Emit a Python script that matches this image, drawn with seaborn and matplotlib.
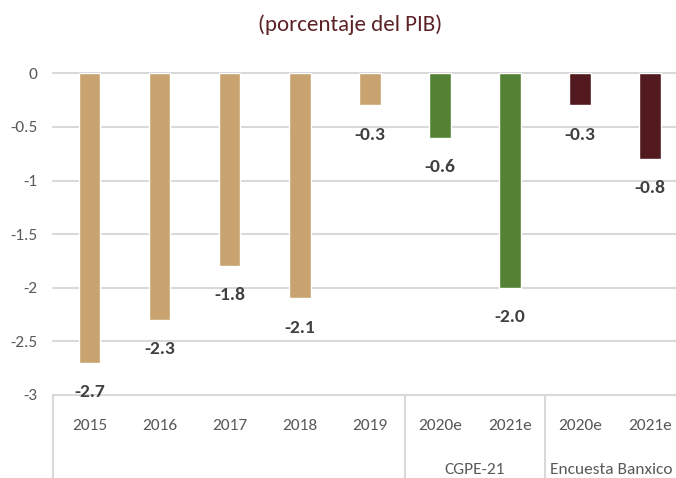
import matplotlib
matplotlib.use('Agg')
import matplotlib.pyplot as plt
import matplotlib.transforms as mtransforms
import pandas as pd
import seaborn as sns

# datos del grafico (porcentaje del PIB)
categorias = ['2015', '2016', '2017', '2018', '2019', '2020e', '2021e', '2020e', '2021e']
valores = [-2.7, -2.3, -1.8, -2.1, -0.3, -0.6, -2.0, -0.3, -0.8]
grupos = ['Observado'] * 5 + ['CGPE-21'] * 2 + ['Encuesta Banxico'] * 2
colores = {'Observado': '#C8A36F', 'CGPE-21': '#548235', 'Encuesta Banxico': '#521A1F'}
y_ticks = [0, -0.5, -1, -1.5, -2, -2.5, -3]

sns.set_style('white')
# Carlito = metricas de Calibri; si falta, se usa la siguiente
plt.rcParams['font.family'] = ['Carlito', 'Source Sans 3', 'DejaVu Sans']

# claves unicas para que seaborn no junte los "2020e" repetidos
df = pd.DataFrame({
    'clave': [f'{g}_{c}' for g, c in zip(grupos, categorias)],
    'valor': valores,
    'grupo': grupos,
})

fig = plt.figure(figsize=(6.76, 4.78), dpi=100)
ax = fig.add_axes([53 / 676, 83 / 478, 623 / 676, 321.7 / 478])

sns.barplot(data=df, x='clave', y='valor', hue='grupo', palette=colores,
            dodge=False, width=0.31, legend=False, ax=ax, saturation=1)

ax.set_xlim(-0.52, 8.37)
ax.set_ylim(-3, 0)
ax.set_yticks(y_ticks)
ax.set_yticklabels([f'{t:g}' for t in y_ticks])
ax.set_xticks(range(len(categorias)))
ax.set_xticklabels(categorias)
ax.set_xlabel('')
ax.set_ylabel('')

ax.grid(axis='y', color='#D9D9D9', linewidth=1.5)
ax.set_axisbelow(True)
for gl in ax.get_ygridlines():
    gl.set_clip_on(False)
for s in ax.spines.values():
    s.set_visible(False)
ax.tick_params(axis='both', length=0, labelsize=12.5, colors='#595959')
ax.tick_params(axis='y', pad=11)
ax.tick_params(axis='x', pad=17)

# etiquetas de valor debajo de cada barra
for i, v in enumerate(valores):
    ax.annotate(f'{v:.1f}', (i, v), xytext=(0, -21), textcoords='offset points',
                ha='center', va='center', fontsize=14, fontweight='bold', color='#404040')

# separadores y nombres de grupo bajo el eje
trans = mtransforms.blended_transform_factory(ax.transData, ax.transAxes)
for xs in [-0.52, 4.5, 6.5]:
    ax.plot([xs, xs], [0, -0.26], transform=trans, color='#D9D9D9',
            linewidth=1.5, clip_on=False)
ax.text(5.5, -0.233, 'CGPE-21', transform=trans, ha='center', va='center',
        fontsize=12.5, color='#595959')
ax.text(7.45, -0.233, 'Encuesta Banxico', transform=trans, ha='center', va='center',
        fontsize=12.5, color='#595959')

fig.text(350 / 676, 1 - 25 / 478, '(porcentaje del PIB)', ha='center', va='center',
         fontsize=16.5, color='#5C2226')

fig.savefig('out.png', dpi=100)
